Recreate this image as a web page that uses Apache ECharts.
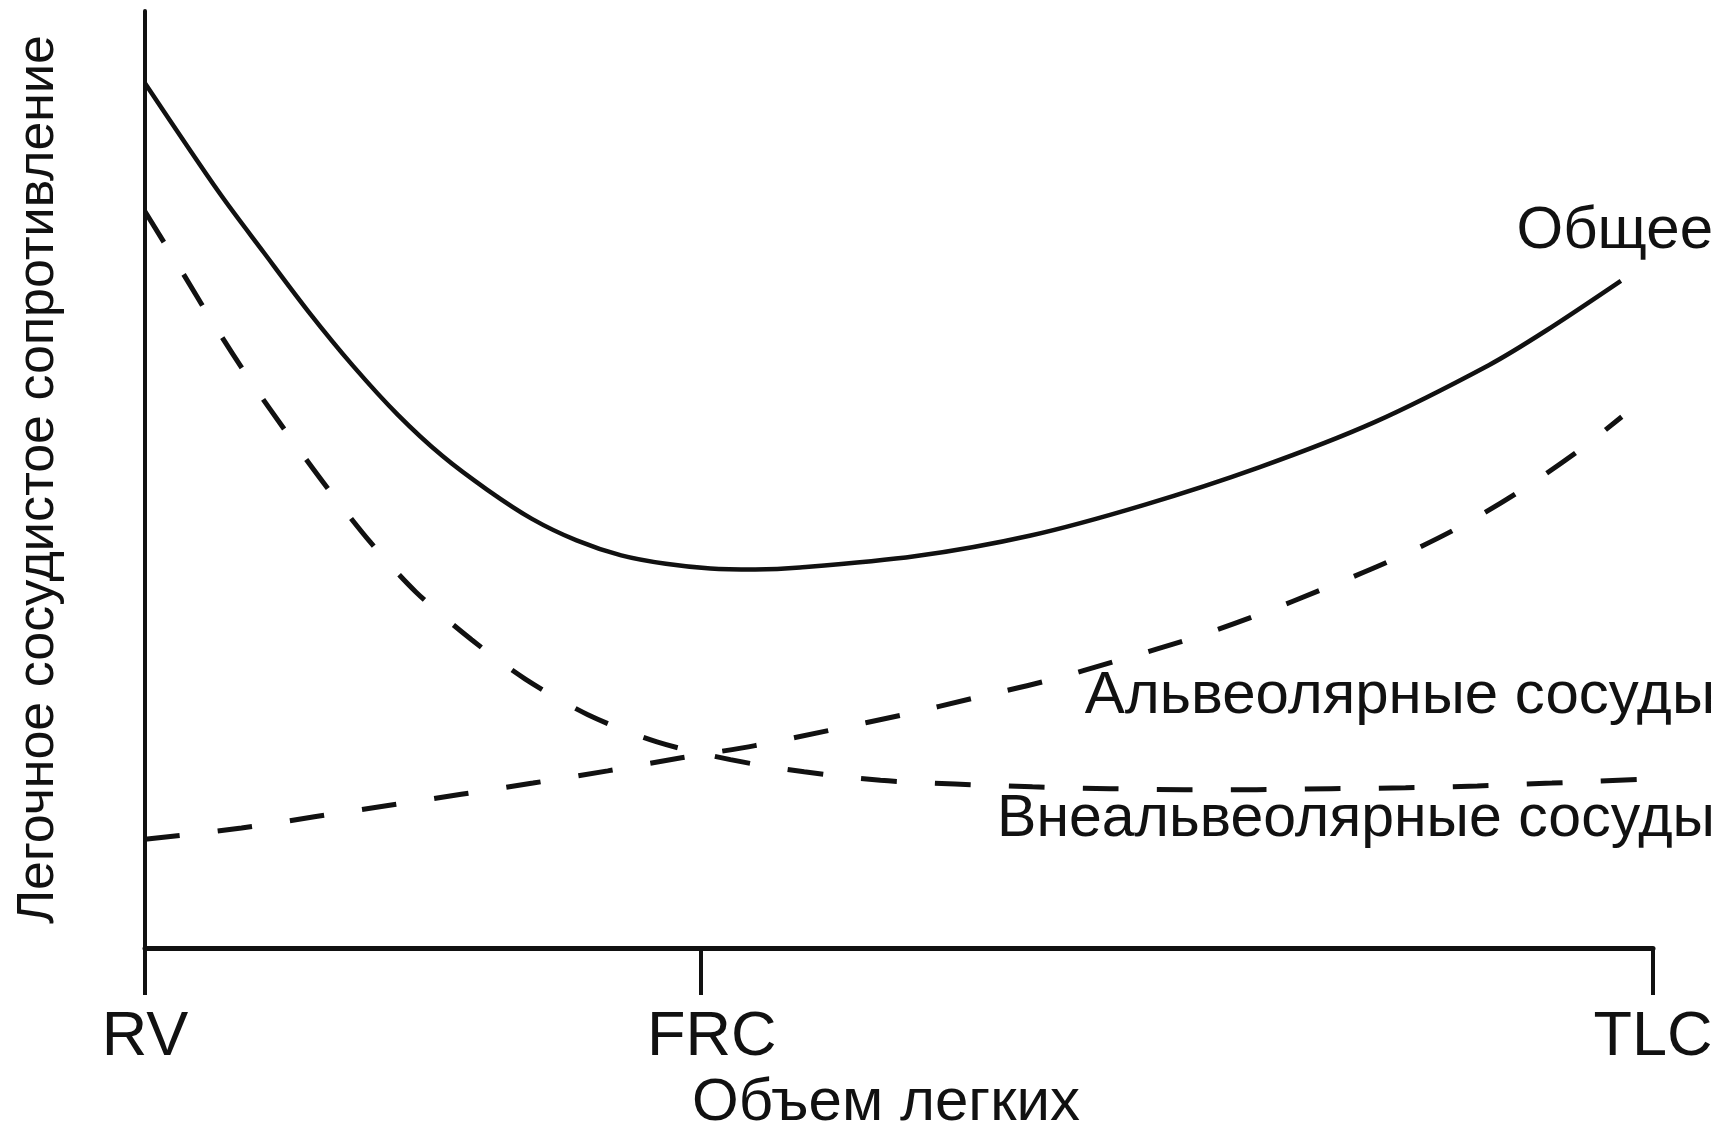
<!DOCTYPE html>
<html>
<head>
<meta charset="utf-8">
<script src="https://cdn.jsdelivr.net/npm/echarts@6/dist/echarts.min.js"></script>
<style>
html,body{margin:0;padding:0;background:#fff;}
#chart{width:1725px;height:1146px;}
</style>
</head>
<body>
<div id="chart"></div>
<script>
// Lung volume positions (RV = 0, TLC = 100)
const tickValues = [0, 36.85, 100];
const tickLabels = ['RV', 'FRC', 'TLC'];

const xAxisTitle = 'Объем легких';
const yAxisTitle = 'Легочное сосудистое сопротивление';

const seriesNames = ['Общее', 'Альвеолярные сосуды', 'Внеальвеолярные сосуды'];

// Total resistance (solid)
const totalX = [0, 4.93, 7.89, 10.85, 13.81, 16.77, 19.73, 22.70, 25.66, 28.62, 31.58, 34.54, 37.50, 40.46, 43.43, 51.04, 58.66, 66.27, 73.88, 81.50, 89.11, 92.92, 97.87];
const totalY = [92.3, 80.6, 74.2, 67.9, 62.1, 56.9, 52.5, 48.9, 45.8, 43.5, 41.9, 41.0, 40.5, 40.4, 40.6, 41.8, 44.0, 47.3, 51.3, 56.1, 62.2, 65.9, 71.2];

// Alveolar vessels (dashed, rising)
const alvX = [0, 6.40, 11.23, 16.11, 20.97, 25.73, 30.69, 35.57, 40.45, 45.30, 50.29, 55.04, 59.99, 64.55, 69.70, 73.89, 78.26, 82.83, 87.01, 91.01, 95.01, 97.93];
const alvY = [11.6, 12.8, 14.0, 15.2, 16.4, 17.6, 18.9, 20.3, 21.6, 23.2, 24.9, 26.7, 28.6, 30.7, 33.2, 35.6, 38.4, 41.5, 44.8, 48.6, 53.0, 56.7];

// Extra-alveolar vessels (dashed, falling)
const extX = [0, 2.33, 4.63, 7.00, 9.58, 12.19, 15.00, 17.96, 21.66, 25.22, 29.37, 33.95, 38.82, 43.71, 48.77, 53.72, 58.85, 63.99, 68.93, 73.70, 78.64, 83.59, 88.35, 93.30, 99.2];
const extY = [78.6, 72.5, 66.4, 60.5, 54.6, 48.9, 43.2, 38.0, 32.9, 28.7, 24.9, 22.0, 20.1, 18.8, 17.9, 17.5, 17.2, 17.0, 16.9, 16.9, 17.0, 17.1, 17.3, 17.6, 18.0];

const zip = (xs, ys) => xs.map((x, i) => [x, ys[i]]);

const FONT = '"Liberation Sans", Arial, Helvetica, sans-serif';
const INK = '#111';

const chart = echarts.init(document.getElementById('chart'), null, {renderer: 'canvas'});

const option = {
  backgroundColor: '#fff',
  animation: false,
  grid: {left: 145, right: 72, top: 11, bottom: 198, containLabel: false},
  xAxis: {
    type: 'value', min: 0, max: 100,
    name: xAxisTitle, nameLocation: 'middle', nameGap: 112,
    nameTextStyle: {fontFamily: FONT, fontSize: 60, color: INK, padding: [0, 26, 0, 0]},
    axisLine: {show: true, onZero: false, lineStyle: {color: INK, width: 5}},
    axisTick: {show: true, length: 47, inside: false, customValues: tickValues, lineStyle: {color: INK, width: 4}},
    axisLabel: {show: true, customValues: tickValues, margin: 58, fontFamily: FONT, fontSize: 63, color: INK,
      formatter: v => {
        const i = tickValues.indexOf(v);
        if (i < 0) return '';
        return i === 1 ? '{f|' + tickLabels[i] + '}' : tickLabels[i];
      },
      rich: {f: {fontFamily: FONT, fontSize: 63, color: INK, padding: [0, 0, 0, 22]}}
    },
    splitLine: {show: false}
  },
  yAxis: {
    type: 'value', min: 0, max: 100,
    name: yAxisTitle, nameLocation: 'middle', nameGap: 80, nameRotate: 90,
    nameTextStyle: {fontFamily: FONT, fontSize: 52, color: INK},
    axisLine: {show: true, onZero: false, lineStyle: {color: INK, width: 4}},
    axisTick: {show: false}, axisLabel: {show: false}, splitLine: {show: false}
  },
  series: [
    {name: seriesNames[0], type: 'line', data: zip(totalX, totalY), smooth: 0.3, showSymbol: false,
      lineStyle: {color: INK, width: 4.5, type: 'solid'}},
    {name: seriesNames[1], type: 'line', data: zip(alvX, alvY), smooth: 0.3, showSymbol: false,
      lineStyle: {color: INK, width: 5, type: [35, 38]}},
    {name: seriesNames[2], type: 'line', data: zip(extX, extY), smooth: 0.3, showSymbol: false,
      lineStyle: {color: INK, width: 5, type: [36, 38]}}
  ],
  graphic: [
    {type: 'text', right: 12, top: 201, style: {text: seriesNames[0], font: '60px ' + FONT, fill: INK}},
    {type: 'text', right: 10, top: 666, style: {text: seriesNames[1], font: '60px ' + FONT, fill: INK}},
    {type: 'text', right: 10, top: 790, style: {text: seriesNames[2], font: '59px ' + FONT, fill: INK}}
  ]
};
chart.setOption(option);
</script>
</body>
</html>
